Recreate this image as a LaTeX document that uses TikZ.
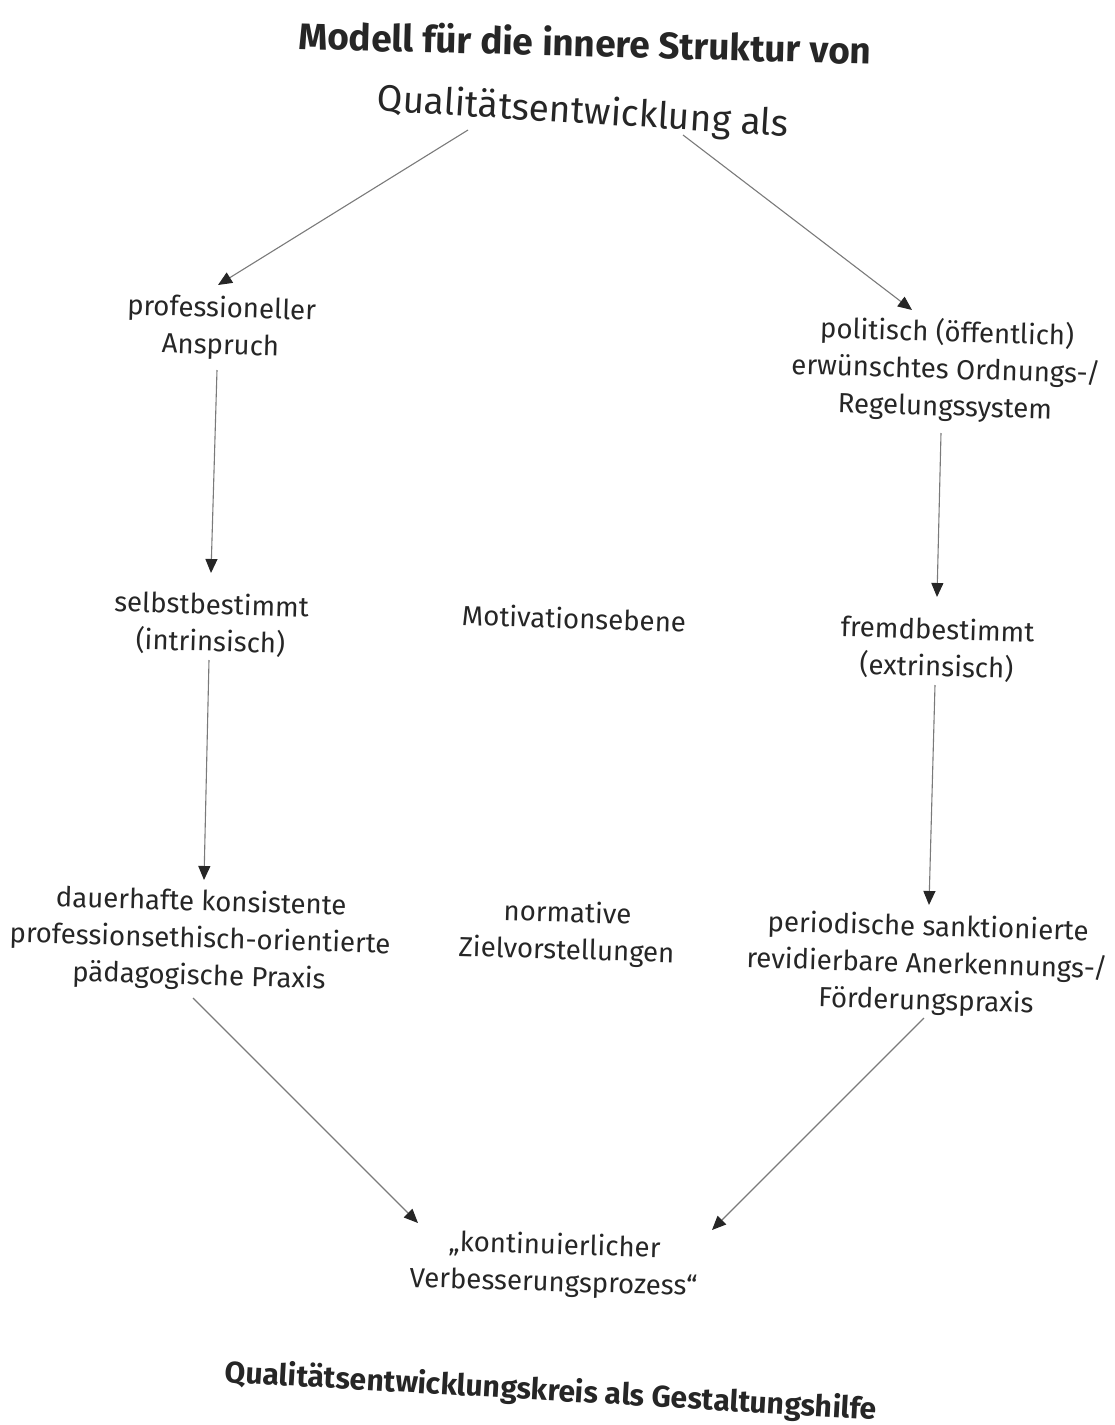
\documentclass[tikz,border=0pt]{standalone}
\usepackage{fontspec}
\setmainfont{Fira Sans}
\usetikzlibrary{arrows.meta,calc}
\definecolor{txt}{HTML}{262626}
\definecolor{ln}{HTML}{7a7a7a}
\begin{document}
\begin{tikzpicture}[x=1pt,y=-1pt,
  lbl/.style={align=center,text=txt,font=\fontsize{27.6}{37}\selectfont,rotate=-1.7,inner sep=0pt},
  ttl/.style={align=center,text=txt,font=\bfseries\fontsize{37}{42}\selectfont,rotate=-1.5,inner sep=0pt},
  conn/.style={draw=ln,line width=1.1pt,-{Triangle[length=14pt,width=12pt,color=txt]}}]
\useasboundingbox (0,0) rectangle (1115,1425);
\node[ttl] (t1) at (585,42) {Modell für die innere Struktur von};
\node[lbl,font=\fontsize{37}{42}\selectfont,rotate=-1.9] (t2) at (583,113) {Qualitätsentwicklung als};
\node[lbl] (prof) at (221,328) {professioneller\\Anspruch};
\node[lbl] (pol) at (946,370) {politisch (öffentlich)\\erwünschtes Ordnungs-/\\Regelungssystem};
\node[lbl] (selbst) at (211,624) {selbstbestimmt\\(intrinsisch)};
\node[lbl] (mot) at (574,618) {Motivationsebene};
\node[lbl] (fremd) at (937,649) {fremdbestimmt\\(extrinsisch)};
\node[lbl] (dauer) at (200,940) {dauerhafte konsistente\\professionsethisch-orientierte\\pädagogische Praxis};
\node[lbl] (norm) at (567,933) {normative\\Zielvorstellungen};
\node[lbl] (perio) at (927,965) {periodische sanktionierte\\revidierbare Anerkennungs-/\\Förderungspraxis};
\node[lbl] (kont) at (554,1265) {„kontinuierlicher\\Verbesserungsprozess“};
\node[ttl,font=\bfseries\fontsize{30}{34}\selectfont,rotate=-1.8] (t3) at (551,1392) {Qualitätsentwicklungskreis als Gestaltungshilfe};
\draw[conn] ($(t2)+(-115,17)$) -- ($(prof)+(-3,-43)$);
\draw[conn] ($(t2)+(100,22)$) -- ($(pol)+(-34,-60)$);
\draw[conn] ($(prof)+(-4,42)$) -- ($(selbst)+(0,-51)$);
\draw[conn] ($(pol)+(-5,63)$) -- ($(fremd)+(0,-52)$);
\draw[conn] ($(selbst)+(-2,36)$) -- ($(dauer)+(4,-60)$);
\draw[conn] ($(fremd)+(-2,36)$) -- ($(perio)+(2,-60)$);
\draw[conn] ($(dauer)+(-7,58)$) -- ($(kont)+(-136,-42)$);
\draw[conn] ($(perio)+(-3,53)$) -- ($(kont)+(158,-35)$);
\end{tikzpicture}
\end{document}
